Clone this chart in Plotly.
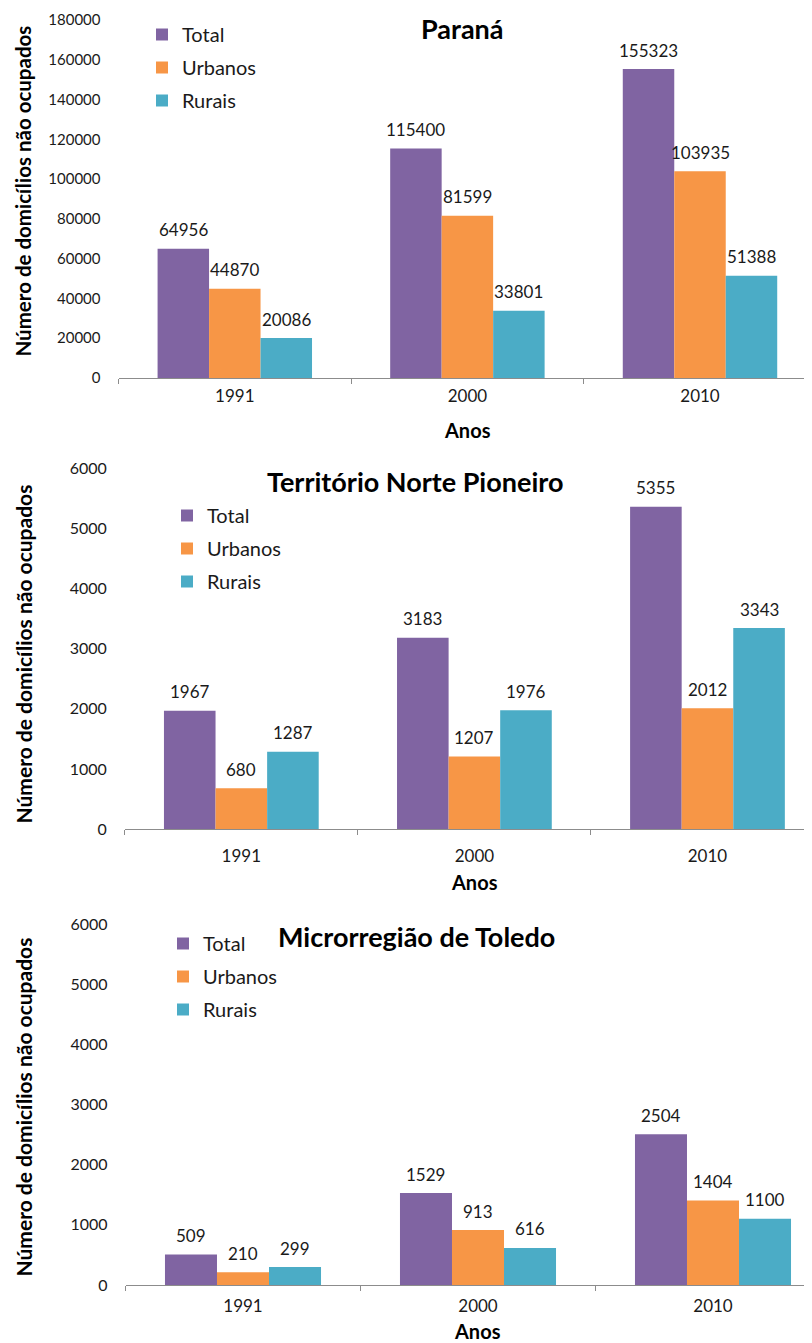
import plotly.graph_objects as go

W, H = 812, 1343
OFF = 8  # default body margin of the page

anos = ["1991", "2000", "2010"]
series_names = ["Total", "Urbanos", "Rurais"]
colors = ["#8064A2", "#F79646", "#4BACC6"]

parana_total = [64956, 115400, 155323]
parana_urbanos = [44870, 81599, 103935]
parana_rurais = [20086, 33801, 51388]

norte_total = [1967, 3183, 5355]
norte_urbanos = [680, 1207, 2012]
norte_rurais = [1287, 1976, 3343]

toledo_total = [509, 1529, 2504]
toledo_urbanos = [210, 913, 1404]
toledo_rurais = [299, 616, 1100]

titles = ["Paraná", "Território Norte Pioneiro", "Microrregião de Toledo"]
y_title = "Número de domicílios não ocupados"
x_title = "Anos"

panels = [
    [parana_total, parana_urbanos, parana_rurais],
    [norte_total, norte_urbanos, norte_rurais],
    [toledo_total, toledo_urbanos, toledo_rurais],
]

FW, FH = W - OFF, H - OFF


def py(p):
    return 1 - (p - OFF) / FH


def px(p):
    return (p - OFF) / FW


FONT = "Lato, 'Open Sans', sans-serif"
BARGAP = 0.336

# layout geometry (pixels of the page)
geo = [
    dict(x0=118.5, xr=2.5 - (816.3 - W) / 232.6, ytop=20, ybot=378, ymax=180000, dtick=20000,
         title_xy=(463, 28), leg=(142, 15), ytit=(22.5, 191), xtit=(467, 430), xstand=3,
         ytsize=20.5, yfont=15),
    dict(x0=124.8, xr=2.5 - (824 - W) / 233, ytop=468, ybot=829.3, ymax=6000, dtick=1000,
         title_xy=(414.5, 481), leg=(167, 496), ytit=(22.5, 654), xtit=(474, 882), xstand=11,
         ytsize=21, yfont=16),
    dict(x0=125.5, xr=2.5 - (830.5 - W) / 235, ytop=924, ybot=1285, ymax=6000, dtick=1000,
         title_xy=(416, 936), leg=(163, 924), ytit=(22.5, 1107), xtit=(477, 1331), xstand=6,
         ytsize=21, yfont=16),
]

fig = go.Figure()
annotations = []
layout = {}
w = (1 - BARGAP) / 3

for p, (vals, g) in enumerate(zip(panels, geo)):
    sfx = "" if p == 0 else str(p + 1)
    legname = "legend" + sfx
    for k, (name, col, v) in enumerate(zip(series_names, colors, vals)):
        fig.add_trace(go.Bar(
            x=anos, y=v, name=name, marker_color=col, marker_line_width=0,
            xaxis="x" + sfx, yaxis="y" + sfx, legend=legname,
            legendgroup=f"{p}-{name}", hoverinfo="x+y+name",
        ))
        for i, val in enumerate(v):
            annotations.append(dict(
                x=i + (k - 1) * w, y=val, xref="x" + sfx, yref="y" + sfx,
                text=str(val), showarrow=False, yanchor="middle", yshift=19,
                font=dict(family=FONT, size=17, color="#1a1a1a"),
            ))
    layout["xaxis" + sfx] = dict(
        domain=[px(g["x0"]), 1.0], anchor="y" + sfx, type="category",
        range=[-0.5, g["xr"]], showline=True, linecolor="#8c8c8c", linewidth=1,
        ticks="outside", tickson="boundaries", ticklen=5, tickcolor="#8c8c8c",
        showgrid=False, zeroline=False, ticklabelstandoff=g["xstand"],
        tickfont=dict(family=FONT, size=17, color="#1a1a1a"), fixedrange=True,
    )
    layout["yaxis" + sfx] = dict(
        domain=[py(g["ybot"]), py(g["ytop"])], anchor="x" + sfx,
        range=[0, g["ymax"]], dtick=g["dtick"], tickformat="d", showline=False, showgrid=False,
        zeroline=False, ticks="", ticklabelstandoff=17,
        tickfont=dict(family=FONT, size=g["yfont"], color="#1a1a1a"), fixedrange=True,
    )
    layout[legname] = dict(
        x=px(g["leg"][0]), y=py(g["leg"][1]), xanchor="left", yanchor="top",
        font=dict(family=FONT, size=20, color="#1a1a1a"), bgcolor="rgba(0,0,0,0)",
        tracegroupgap=4, traceorder="grouped",
    )
    annotations.append(dict(
        x=px(g["title_xy"][0]), y=py(g["title_xy"][1]), xref="paper", yref="paper",
        text="<b>" + titles[p] + "</b>", showarrow=False, xanchor="center", yanchor="middle",
        font=dict(family=FONT, size=27, color="#000000"),
    ))
    annotations.append(dict(
        x=px(g["ytit"][0]), y=py(g["ytit"][1]), xref="paper", yref="paper",
        text="<b>" + y_title + "</b>", showarrow=False, textangle=-90,
        xanchor="center", yanchor="middle",
        font=dict(family=FONT, size=g["ytsize"], color="#000000"),
    ))
    annotations.append(dict(
        x=px(g["xtit"][0]), y=py(g["xtit"][1]), xref="paper", yref="paper",
        text="<b>" + x_title + "</b>", showarrow=False, xanchor="center", yanchor="middle",
        font=dict(family=FONT, size=20, color="#000000"),
    ))

fig.update_layout(
    width=FW, height=FH, margin=dict(l=0, r=0, t=0, b=0, pad=0, autoexpand=False),
    paper_bgcolor="white", plot_bgcolor="white",
    barmode="group", bargap=BARGAP, bargroupgap=0,
    font=dict(family=FONT, color="#1a1a1a"),
    annotations=annotations, showlegend=True,
    **layout,
)

fig.write_html("out.html", config={"displayModeBar": False})
